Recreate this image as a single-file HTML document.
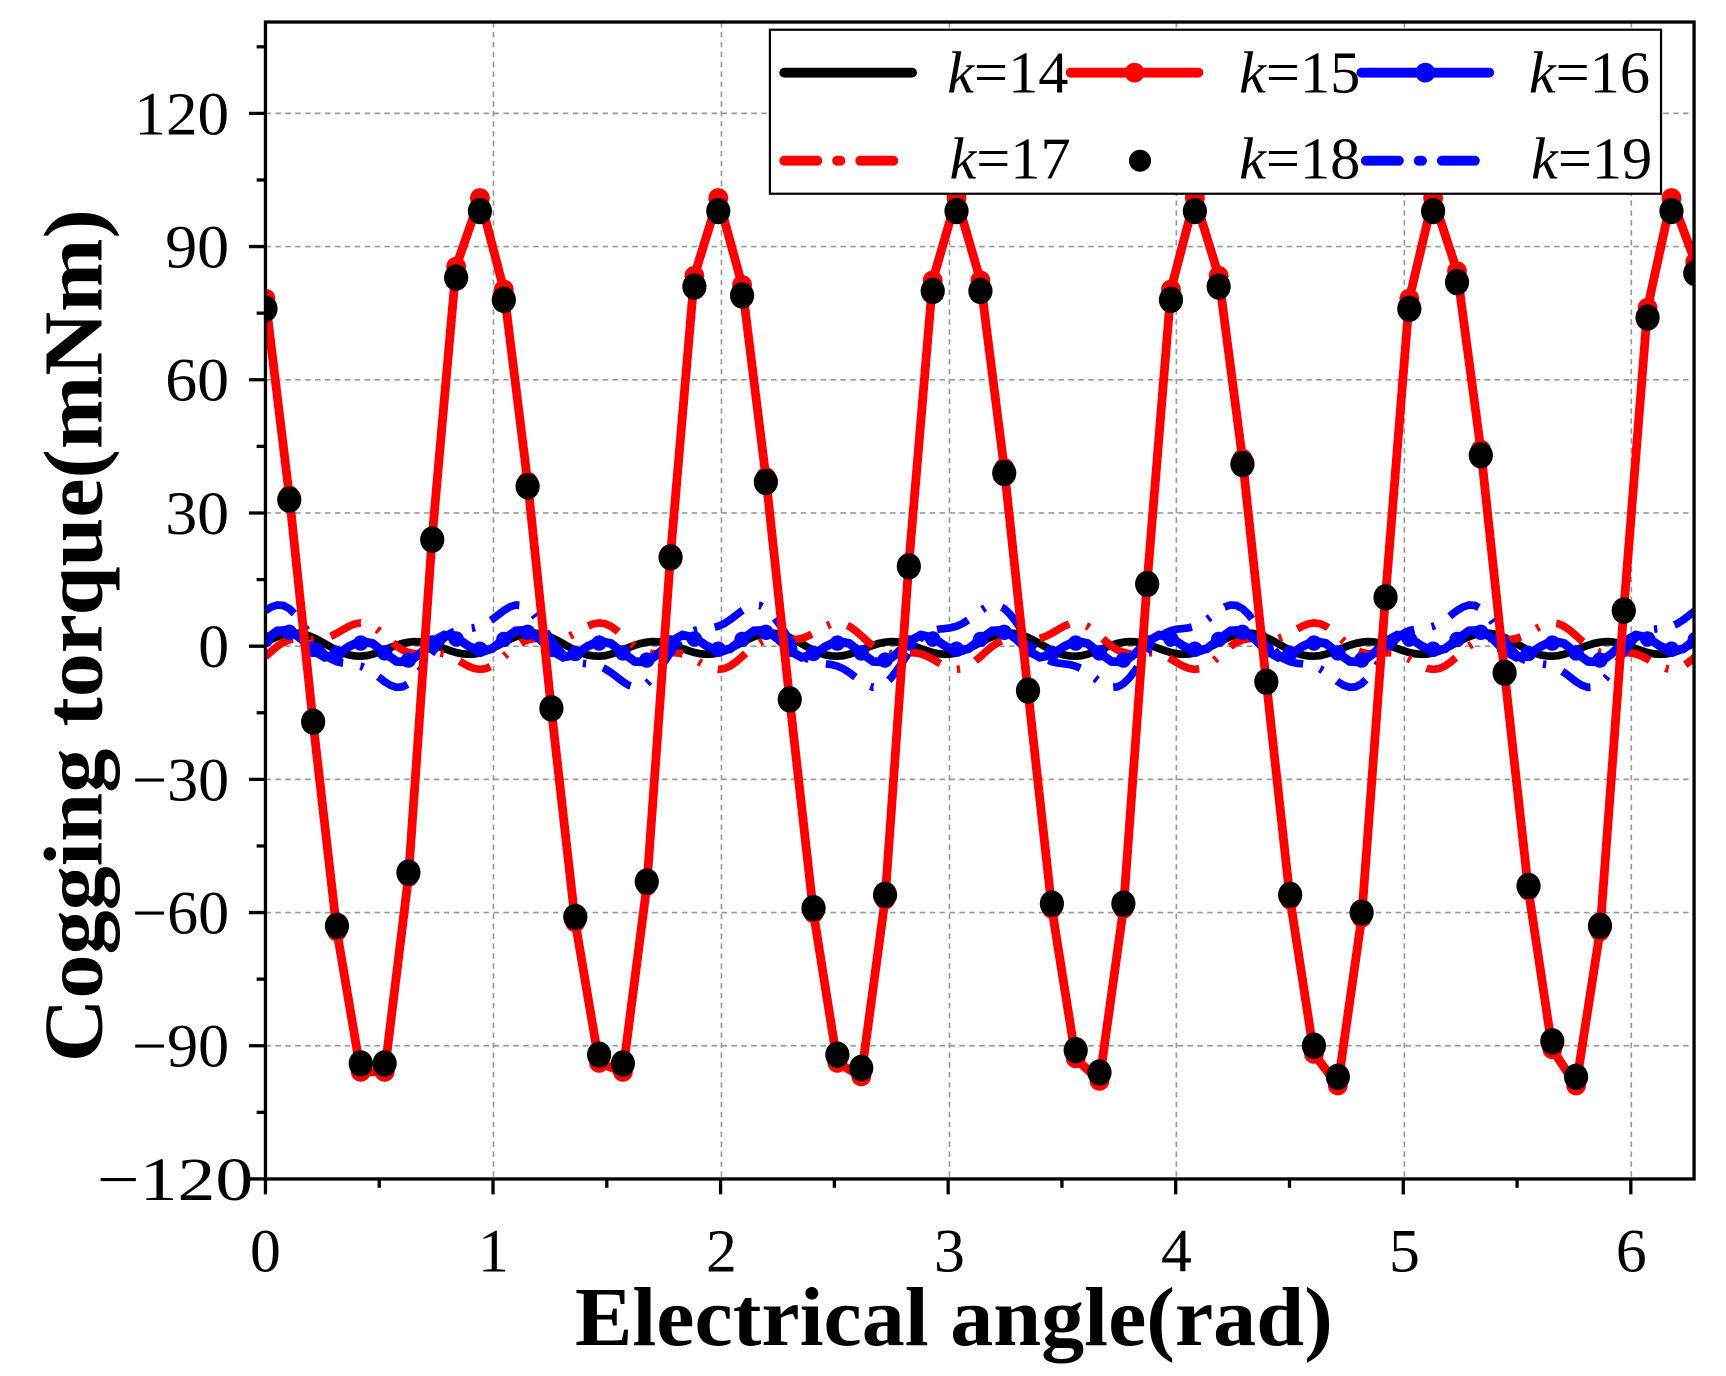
<!DOCTYPE html>
<html><head><meta charset="utf-8"><style>
html,body{margin:0;padding:0;background:#fff;}
svg{display:block;}
text{font-family:"Liberation Serif",serif;}
</style></head><body>
<svg id="s" width="1726" height="1376" viewBox="0 0 1567 1250" preserveAspectRatio="none" xmlns="http://www.w3.org/2000/svg">
<rect width="1567" height="1250" fill="#fff"/>
<g stroke="#999" stroke-width="1.5" stroke-dasharray="5,4">
<line x1="448" y1="20" x2="448" y2="1071"/><line x1="655" y1="20" x2="655" y2="1071"/><line x1="862" y1="20" x2="862" y2="1071"/><line x1="1068" y1="20" x2="1068" y2="1071"/><line x1="1275" y1="20" x2="1275" y2="1071"/><line x1="1481" y1="20" x2="1481" y2="1071"/>
<line x1="241" y1="103" x2="1538" y2="103"/><line x1="241" y1="224" x2="1538" y2="224"/><line x1="241" y1="345" x2="1538" y2="345"/><line x1="241" y1="466" x2="1538" y2="466"/><line x1="241" y1="587" x2="1538" y2="587"/><line x1="241" y1="708" x2="1538" y2="708"/><line x1="241" y1="829" x2="1538" y2="829"/><line x1="241" y1="950" x2="1538" y2="950"/>
</g>
<defs><clipPath id="c"><rect x="241" y="20" width="1297" height="1051"/></clipPath></defs>
<g id="data" clip-path="url(#c)"></g>
<rect x="241" y="20" width="1297" height="1051" fill="none" stroke="#000" stroke-width="3"/>
<g id="ticks" stroke="#000" stroke-width="3"></g>
<g font-size="56" text-anchor="end">
<text x="208" y="122" textLength="86" lengthAdjust="spacingAndGlyphs">120</text>
<text x="208" y="243" textLength="58" lengthAdjust="spacingAndGlyphs">90</text>
<text x="208" y="364" textLength="58" lengthAdjust="spacingAndGlyphs">60</text>
<text x="208" y="485" textLength="58" lengthAdjust="spacingAndGlyphs">30</text>
<text x="208" y="606" textLength="28" lengthAdjust="spacingAndGlyphs">0</text>
<text x="208" y="727" textLength="88" lengthAdjust="spacingAndGlyphs">−30</text>
<text x="208" y="848" textLength="88" lengthAdjust="spacingAndGlyphs">−60</text>
<text x="208" y="969" textLength="88" lengthAdjust="spacingAndGlyphs">−90</text>
<text x="230" y="1090" textLength="142" lengthAdjust="spacingAndGlyphs">−120</text>
</g>
<g font-size="56" text-anchor="middle">
<text x="241" y="1155">0</text><text x="448" y="1155">1</text><text x="655" y="1155">2</text><text x="862" y="1155">3</text><text x="1068" y="1155">4</text><text x="1275" y="1155">5</text><text x="1481" y="1155">6</text>
</g>
<text x="522" y="1222" font-size="76" font-weight="bold" textLength="688" lengthAdjust="spacingAndGlyphs">Electrical angle(rad)</text>
<text transform="translate(92,965) rotate(-90)" font-size="76" font-weight="bold" textLength="775" lengthAdjust="spacingAndGlyphs">Cogging torque(mNm)</text>
<rect x="699" y="27" width="809" height="149" fill="#fff" stroke="#000" stroke-width="2"/>
<g stroke-width="9" stroke-linecap="round">
<line x1="712" y1="66" x2="828" y2="66" stroke="#000"/>
<line x1="972" y1="66" x2="1088" y2="66" stroke="#f00"/><circle cx="1030" cy="66" r="9" fill="#f00"/>
<line x1="1236" y1="66" x2="1352" y2="66" stroke="#00f"/><circle cx="1294" cy="66" r="9" fill="#00f"/>
<line x1="712" y1="146" x2="828" y2="146" stroke="#f00" stroke-dasharray="30,18,3,18"/>
<circle cx="1035" cy="146" r="10" fill="#000"/>
<line x1="1240" y1="146" x2="1356" y2="146" stroke="#00f" stroke-dasharray="30,18,3,18"/>
</g>
<g font-size="54">
<text x="860" y="84" textLength="110" lengthAdjust="spacingAndGlyphs"><tspan font-style="italic">k</tspan>=14</text>
<text x="1125" y="84" textLength="110" lengthAdjust="spacingAndGlyphs"><tspan font-style="italic">k</tspan>=15</text>
<text x="1388" y="84" textLength="110" lengthAdjust="spacingAndGlyphs"><tspan font-style="italic">k</tspan>=16</text>
<text x="862" y="162" textLength="110" lengthAdjust="spacingAndGlyphs"><tspan font-style="italic">k</tspan>=17</text>
<text x="1125" y="162" textLength="110" lengthAdjust="spacingAndGlyphs"><tspan font-style="italic">k</tspan>=18</text>
<text x="1390" y="162" textLength="110" lengthAdjust="spacingAndGlyphs"><tspan font-style="italic">k</tspan>=19</text>
</g>
</svg>
<script>
var X=function(v){return 241+v*206.6},Y=function(v){return 587-v*121/30};
var D=[76,33,-17,-63,-94,-94,-51,24,83,98,78,36,-14,-61,-92,-94,-53,20,81,98,79,37,-12,-59,-92,-95,-56,18,80,98,80,39,-10,-58,-91,-96,-58,14,78,98,81,41,-8,-56,-90,-97,-60,11,76,98,82,43,-6,-54,-89,-97,-63,8,74,98,84];
var N=60,g=document.getElementById('data'),h='';
var TP=6.2832;
function path(f,n,attr){var d='';for(var i=0;i<=n;i++){var x=i*TP/n;d+=(i?'L':'M')+X(x).toFixed(1)+','+Y(f(x,i)).toFixed(1);}return '<path d="'+d+'" fill="none" '+attr+'/>';}
h+=path(function(x){return 2*Math.sin(12*x)+1*Math.sin(6*x+1)},240,'stroke="#000" stroke-width="7"');
h+=path(function(x){return 4*Math.cos(6*x-2.2)+1.5*Math.sin(18*x)},240,'stroke="#f00" stroke-width="7" stroke-dasharray="30,16,3,16"');
h+=path(function(x){return 8*Math.cos(6*x-6.3)+2*Math.sin(18*x)},240,'stroke="#00f" stroke-width="7" stroke-dasharray="30,16,3,16"');
h+=path(function(x){return 2.5*Math.sin(18*x)+1.5*Math.cos(6*x)},120,'stroke="#00f" stroke-width="8"');
for(var i=0;i<=N;i++){var x=i*TP/N;h+='<circle cx="'+X(x).toFixed(1)+'" cy="'+Y(2*Math.sin(18*x)+1.5*Math.cos(6*x)).toFixed(1)+'" r="7" fill="#00f"/>';}
var R=function(x,i){var v=D[i];return v>0?v*1.03:v*1.02;};
h+=path(R,N,'stroke="#f00" stroke-width="8" stroke-linejoin="round"');
for(var i=0;i<=N;i++){var x=i*TP/N;h+='<circle cx="'+X(x).toFixed(1)+'" cy="'+Y(R(x,i)).toFixed(1)+'" r="9" fill="#f00"/>';}
for(var i=0;i<=N;i++){var x=i*TP/N;h+='<ellipse cx="'+X(x).toFixed(1)+'" cy="'+Y(D[i]).toFixed(1)+'" rx="11" ry="12" fill="#000"/>';}
g.innerHTML=h;
var t='';
for(var v=-120;v<=135;v+=15){var y=Y(v);t+='<line x1="'+(v%30?233:226)+'" y1="'+y+'" x2="241" y2="'+y+'"/>';}
for(var v=0;v<=6.3;v+=0.5){var x=X(v);t+='<line x1="'+x+'" y1="1071" x2="'+x+'" y2="'+(Math.abs(v%1)<0.01?1085:1079)+'"/>';}
document.getElementById('ticks').innerHTML=t;
</script>
</body></html>
